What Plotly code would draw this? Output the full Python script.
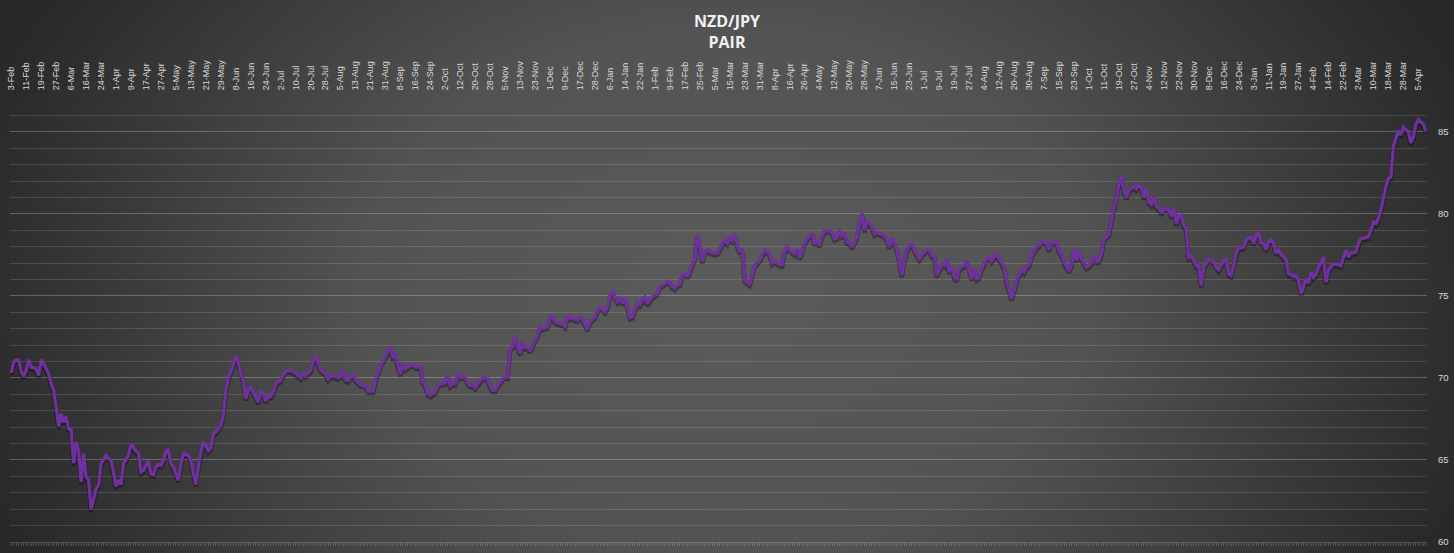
import base64
import plotly.graph_objects as go

# ---------------- data ----------------
tick_labels = [
    "3-Feb", "11-Feb", "19-Feb", "27-Feb", "6-Mar", "16-Mar", "24-Mar", "1-Apr", "9-Apr", "17-Apr",
    "27-Apr", "5-May", "13-May", "21-May", "29-May", "8-Jun", "16-Jun", "24-Jun", "2-Jul", "10-Jul",
    "20-Jul", "28-Jul", "5-Aug", "13-Aug", "21-Aug", "31-Aug", "8-Sep", "16-Sep", "24-Sep", "2-Oct",
    "12-Oct", "20-Oct", "28-Oct", "5-Nov", "13-Nov", "23-Nov", "1-Dec", "9-Dec", "17-Dec", "28-Dec",
    "6-Jan", "14-Jan", "22-Jan", "1-Feb", "9-Feb", "17-Feb", "25-Feb", "5-Mar", "15-Mar", "23-Mar",
    "31-Mar", "8-Apr", "16-Apr", "26-Apr", "4-May", "12-May", "20-May", "28-May", "7-Jun", "15-Jun",
    "23-Jun", "1-Jul", "9-Jul", "19-Jul", "27-Jul", "4-Aug", "12-Aug", "20-Aug", "30-Aug", "7-Sep",
    "15-Sep", "23-Sep", "1-Oct", "11-Oct", "19-Oct", "27-Oct", "4-Nov", "12-Nov", "22-Nov", "30-Nov",
    "8-Dec", "16-Dec", "24-Dec", "3-Jan", "11-Jan", "19-Jan", "27-Jan", "4-Feb", "14-Feb", "22-Feb",
    "2-Mar", "10-Mar", "18-Mar", "28-Mar", "5-Apr",
]
label_step = 6          # one label every 6 trading days
n_days = 568            # trading days on the category axis

y_ticks = [60, 65, 70, 75, 80, 85]

# trading-day position and NZD/JPY close
day_index = [
    0, 1, 2, 3, 4, 5, 6, 7, 8, 9, 10, 11, 12, 13, 15, 16, 17, 18, 19, 20,
    21, 22, 23, 24, 25, 26, 27, 28, 29, 30, 31, 32, 33, 34, 35, 36, 38, 40, 41, 42,
    43, 44, 45, 47, 48, 49, 50, 51, 52, 53, 55, 56, 57, 58, 59, 60, 61, 62, 63, 64,
    65, 66, 67, 68, 69, 71, 72, 73, 74, 75, 76, 77, 78, 79, 80, 81, 82, 83, 84, 85,
    86, 87, 89, 90, 91, 92, 93, 94, 95, 96, 97, 98, 99, 100, 101, 102, 103, 104, 105, 106,
    108, 109, 110, 112, 114, 115, 116, 117, 118, 120, 121, 122, 123, 124, 126, 127, 128, 130, 131, 132,
    133, 134, 135, 137, 138, 140, 141,
    142, 143, 145, 146, 148, 150, 151, 152, 153, 154, 155, 156, 157, 158, 160, 161, 162, 164, 165, 166,
    167, 168, 170, 171, 172, 174, 175, 176, 177, 178, 179, 180, 182, 183, 184, 185, 186, 187, 189, 190,
    191, 192, 193, 194, 195, 197, 198, 199, 200, 201, 202, 203, 204, 205, 206, 207, 208, 209, 211, 212,
    213, 215, 216, 217, 218, 220, 221, 222, 223, 224, 225, 226, 227, 228, 229, 230, 231, 232, 233, 234,
    235, 236, 238, 239, 240, 241, 242, 243, 244, 245, 246, 247, 248, 249, 250, 251, 252, 253, 254, 255,
    256, 257, 259, 260, 261, 263, 264, 265, 266, 267, 268, 269, 270, 271, 272, 273, 274, 275, 276, 277,
    278, 279, 281, 282, 283,
    284, 285, 286, 287, 288, 289, 290, 291, 292, 293, 294, 296, 297, 298, 300, 301, 302, 304, 305, 306,
    308, 309, 310, 311, 313, 314, 315, 316, 317, 318, 319, 321, 322, 323, 324, 325, 326, 328, 329, 330,
    331, 332, 333, 334, 335, 336, 337, 338, 339, 340, 341, 342, 343, 344, 345, 346, 347, 349, 350, 351,
    352, 353, 354, 355, 356, 357, 358, 359, 361, 362, 364, 365, 367, 368, 369, 370, 371, 372, 373, 374,
    375, 376, 377, 378, 379, 380, 381, 382, 383, 384, 385, 386, 387, 388, 389, 391, 392, 393, 395, 396,
    398, 399, 400, 401, 402, 403, 405, 406, 407, 408, 409, 411, 412, 413, 415, 416, 417, 419, 420, 421,
    422, 424, 425, 426, 427, 428, 429,
    431, 432, 433, 434, 435, 436, 437, 438, 439, 440, 441, 442, 443, 444, 445, 446, 447, 448, 450, 451,
    452, 453, 454, 455, 456, 457, 458, 459, 460, 461, 462, 463, 464, 465, 466, 467, 468, 469, 470, 471,
    472, 473, 474, 475, 476, 477, 478, 479, 480, 482, 483, 484, 486, 487, 488, 489, 490, 491, 492, 493,
    494, 495, 496, 497, 498, 499, 500, 501, 502, 503, 504, 505, 506, 507, 508, 509, 511, 512, 513, 514,
    515, 516, 517, 518, 519, 520, 521, 522, 523, 524, 525, 526, 527, 528, 530, 531, 532, 533, 534, 535,
    536, 537, 539, 540, 541, 542, 544, 545, 546, 547, 548, 549, 550, 551, 552, 553, 554, 555, 556, 557,
    558, 559, 560, 561, 562, 563, 564, 565, 566, 567,
]

nzdjpy = [
    70.30, 70.97, 71.10, 71.07, 70.36, 70.10, 70.46, 71.10, 70.66, 70.62, 70.56, 70.15, 71.10, 70.87, 70.25, 69.65, 69.24, 68.22, 67.04, 67.82,
    67.30, 67.65, 66.90, 66.84, 64.80, 66.09, 65.58, 63.65, 65.38, 63.96, 63.80, 61.96, 62.63, 63.24, 63.45, 64.77, 65.28, 64.97, 64.26, 63.39,
    63.75, 63.50, 64.77, 65.28, 65.99, 65.72, 65.52, 65.42, 64.26, 64.36, 64.93, 64.16, 64.12, 64.57, 64.73, 64.67, 64.97, 65.52, 65.62, 64.77,
    64.57, 64.16, 63.75, 64.77, 65.38, 65.28, 64.97, 64.20, 63.50, 64.57, 65.48, 66.03, 65.89, 65.58, 65.74, 66.60, 66.70, 66.90, 67.11, 67.72,
    69.24, 69.95, 70.87, 71.31, 70.97, 70.26, 69.85, 68.73, 69.24, 69.44, 69.14, 68.79, 68.53, 69.24, 69.04, 68.59, 68.87, 68.87, 69.14, 69.65,
    69.85, 70.22, 70.40, 70.46, 70.30, 70.15, 70.01, 70.26, 70.15, 70.46, 71.03, 71.37, 70.87, 70.50, 70.26, 69.95, 70.15, 70.10, 70.01, 70.15,
    70.50, 69.89, 69.85, 70.26, 69.89, 69.60, 69.54,
    69.55, 69.20, 69.20, 69.86, 70.78, 71.29, 71.69, 71.90, 71.29, 71.39, 70.78, 70.22, 70.92, 70.57, 70.78, 70.82, 70.67, 70.71, 69.76, 69.55,
    69.04, 68.94, 69.14, 69.55, 69.65, 69.69, 70.16, 69.55, 69.65, 69.65, 70.27, 70.06, 70.06, 69.69, 69.55, 69.59, 69.41, 69.65, 70.02, 69.96,
    69.96, 69.49, 69.24, 69.24, 69.55, 69.96, 70.10, 70.06, 71.80, 71.90, 72.55, 71.94, 71.49, 72.20, 71.86, 71.90, 71.65, 72.00, 72.61, 73.12,
    73.02, 73.12, 73.73, 73.73, 73.43, 73.29, 73.29, 73.16, 73.84, 73.63, 73.69, 73.57, 73.53, 73.73, 73.57, 73.29, 72.96, 73.43, 73.57, 73.73,
    74.14, 74.31, 74.04, 74.31, 75.00, 75.33, 74.92, 74.65, 74.86, 74.55, 74.92, 74.39, 73.69, 73.73, 74.10, 74.59, 74.45, 74.76, 74.92, 74.51,
    74.80, 74.96, 75.16, 75.57, 75.65, 75.88, 75.82, 75.57, 75.47, 75.67, 75.73, 76.29, 76.43, 76.18, 76.49, 76.90, 77.31, 78.67, 78.12, 77.10,
    77.65, 77.78, 77.61, 77.61, 77.61,
    77.85, 78.18, 78.38, 78.22, 78.54, 78.38, 78.79, 78.08, 77.67, 77.87, 75.95, 75.71, 76.26, 76.86, 77.17, 77.57, 77.81, 77.57, 77.00, 77.13,
    76.92, 76.90, 77.73, 77.98, 77.67, 77.57, 77.87, 77.33, 77.67, 78.22, 78.48, 78.83, 78.18, 78.42, 78.08, 78.68, 78.95, 78.99, 78.89, 78.48,
    78.54, 78.99, 78.68, 78.79, 78.28, 78.22, 77.98, 78.28, 78.58, 79.43, 80.04, 78.99, 79.60, 79.43, 79.19, 78.79, 78.89, 78.74, 78.68, 78.42,
    77.98, 78.54, 78.22, 77.87, 77.06, 76.26, 77.17, 77.81, 78.22, 77.81, 77.27, 77.51, 77.81, 77.81, 77.47, 77.47, 76.26, 76.56, 76.92, 76.86,
    77.27, 76.46, 76.76, 76.15, 75.99, 76.66, 76.80, 76.86, 77.17, 76.56, 76.05, 76.66, 76.05, 76.15, 76.66, 77.27, 77.33, 77.13, 77.61, 77.27,
    76.76, 75.85, 75.34, 74.84, 75.34, 75.95, 76.60, 76.46, 76.80, 76.86, 77.47, 77.98, 78.08, 78.34, 78.22, 77.81, 78.22, 78.28, 77.77, 77.53,
    77.06, 76.52, 76.86, 77.87, 77.17, 77.77, 77.26,
    76.75, 76.85, 77.06, 77.46, 77.12, 77.12, 77.57, 78.48, 78.58, 78.75, 79.60, 80.42, 80.93, 81.84, 82.29, 81.44, 80.99, 81.44, 81.68, 81.54,
    81.74, 81.64, 80.99, 81.54, 80.72, 80.58, 81.03, 80.46, 80.32, 80.11, 80.21, 80.38, 80.21, 79.85, 80.38, 79.40, 79.85, 79.91, 79.30, 79.09,
    77.36, 77.46, 77.16, 76.85, 76.91, 75.63, 76.75, 77.00, 77.26, 77.06, 76.75, 76.59, 77.16, 77.20, 76.34, 76.24, 76.95, 77.57, 77.97, 77.93,
    77.97, 78.38, 78.54, 78.58, 78.18, 78.75, 78.83, 78.22, 78.18, 77.81, 78.28, 78.42, 78.18, 77.61, 77.77, 77.53, 77.20, 76.34, 76.30, 76.18,
    76.24, 75.94, 75.12, 75.63, 76.04, 75.77, 76.45, 76.14, 76.30, 76.75, 77.06, 77.36, 75.83, 76.55, 76.95, 76.91, 76.91, 76.85, 77.36, 77.77,
    77.36, 77.61, 77.67, 78.18, 78.48, 78.52, 78.58, 78.99, 79.50, 79.40, 79.70, 80.21, 81.03, 81.64, 82.15, 82.25, 84.08, 84.59, 85.06, 84.80,
    85.30, 85.14, 85.00, 84.33, 84.69, 85.41, 85.75, 85.61, 85.47, 85.06,
]

# ---------------- figure ----------------
W, H = 1454, 553
L, R, T, B = 10, 27, 99, 11
PW, PH = W - L - R, H - T - B

svg = (
    '<svg xmlns="http://www.w3.org/2000/svg" width="1454" height="553" viewBox="0 0 1454 553">'
    '<defs><radialGradient id="g" gradientUnits="userSpaceOnUse" cx="727" cy="290" r="800" '
    'gradientTransform="translate(727 290) scale(1 0.72) translate(-727 -290)">'
    '<stop offset="0" stop-color="#5b5b5b"/>'
    '<stop offset="0.45" stop-color="#535353"/>'
    '<stop offset="0.91" stop-color="#2e2e2e"/>'
    '<stop offset="1" stop-color="#282828"/>'
    '</radialGradient></defs>'
    '<rect width="1454" height="553" fill="url(#g)"/></svg>'
)
bg_uri = "data:image/svg+xml;base64," + base64.b64encode(svg.encode()).decode()

x_range = [-0.5, n_days - 0.5]
grid_col = "rgba(255,255,255,0.13)"
label_col = "#d9d9d9"

fig = go.Figure()
# soft shadow under the line (drawn on a slightly shifted value axis)
fig.add_trace(go.Scatter(
    x=day_index, y=nzdjpy, xaxis="x", yaxis="y", mode="lines",
    line=dict(color="rgba(0,0,0,0.35)", width=4.5),
    hoverinfo="skip", showlegend=False,
))
# main series
fig.add_trace(go.Scatter(
    x=day_index, y=nzdjpy, xaxis="x2", yaxis="y2", mode="lines",
    line=dict(color="#7030A0", width=3.3),
    name="NZD/JPY", showlegend=False,
))

fig.update_layout(
    width=W, height=H,
    margin=dict(l=L, r=R, t=T, b=B, autoexpand=False),
    paper_bgcolor="#303030",
    plot_bgcolor="rgba(0,0,0,0)",
    images=[dict(
        source=bg_uri, xref="paper", yref="paper",
        x=-L / PW, y=1 + T / PH, sizex=W / PW, sizey=H / PH,
        xanchor="left", yanchor="top", sizing="stretch", layer="below",
    )],
    title=dict(
        text="<b>NZD/JPY</b><br><b>PAIR</b>",
        x=0.5, xref="container", xanchor="center",
        y=1 - 27 / H, yref="container", yanchor="top",
        font=dict(family="Open Sans", size=16, color="#f2f2f2"),
    ),
    xaxis=dict(
        side="top", range=x_range,
        tickmode="array",
        tickvals=[i * label_step for i in range(len(tick_labels))],
        ticktext=tick_labels,
        tickangle=-90,
        tickfont=dict(family="Liberation Sans", size=9, color=label_col),
        ticks="outside", ticklen=6, tickcolor="rgba(0,0,0,0)",
        showgrid=False, zeroline=False, showline=False, fixedrange=True,
    ),
    yaxis=dict(
        range=[60 + 0.12, 87 + 0.12], visible=False, fixedrange=True,
    ),
    xaxis2=dict(
        overlaying="x", anchor="y2", side="bottom", range=x_range,
        tickmode="linear", tick0=0, dtick=1,
        ticks="outside", ticklen=3, tickcolor="rgba(255,255,255,0.18)",
        showticklabels=False, showgrid=False, zeroline=False,
        showline=True, linecolor="rgba(255,255,255,0.18)", linewidth=1,
        fixedrange=True,
    ),
    yaxis2=dict(
        overlaying="y", anchor="x2", side="right", range=[60, 87],
        tickmode="array", tickvals=y_ticks,
        tickfont=dict(family="Liberation Sans", size=9.5, color=label_col),
        ticks="outside", ticklen=8, tickcolor="rgba(0,0,0,0)",
        showgrid=True, gridcolor=grid_col, gridwidth=1,
        minor=dict(dtick=1, tick0=60, showgrid=True, gridcolor=grid_col, gridwidth=1),
        zeroline=False, showline=False, fixedrange=True,
    ),
)

fig.write_html(
    "out.html",
    config={"displayModeBar": False},
    post_script="document.body.style.margin='0';document.body.style.overflow='hidden';",
)
